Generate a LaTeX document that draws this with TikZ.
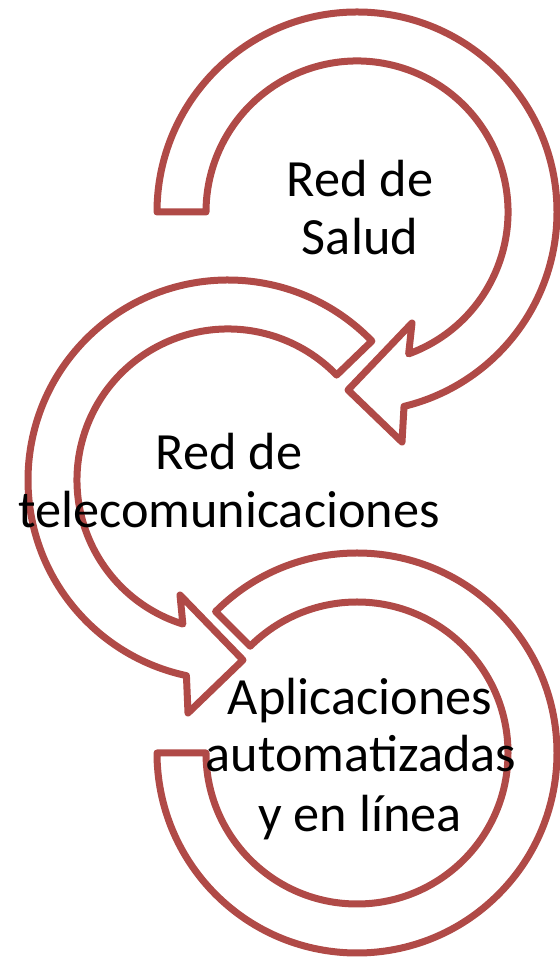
\documentclass[tikz,border=0pt]{standalone}
\usepackage{fontspec}
\setmainfont{Carlito}
\usetikzlibrary{calc}
\definecolor{arrowred}{RGB}{176,74,71}
\begin{document}
\begin{tikzpicture}[x=1pt,y=1pt,
  circarrow/.style={draw=arrowred,line width=7pt,line join=round,fill=white},
  lbl/.style={inner sep=0pt,anchor=base,font=\fontsize{52.3}{58}\selectfont}]
\useasboundingbox (0,0) rectangle (559,965);
\coordinate (C1) at (357,753);
\coordinate (C2) at (228,485);
\coordinate (C3) at (357,212);
% arrow 1 (top)
\draw[circarrow] ($(C1)+(180:200)$) arc[start angle=180,end angle=-76.4,radius=200]
  -- (402,523) -- (348,575) -- (412,642) -- ($(C1)+(-70:151)$)
  arc[start angle=-70,end angle=180,radius=151] -- cycle;
% arrow 2 (middle)
\draw[circarrow] ($(C2)+(44:200)$) arc[start angle=44,end angle=258,radius=200]
  -- (188,252) -- (243,305) -- (180,370) -- ($(C2)+(252.6:151)$)
  arc[start angle=252.6,end angle=44,radius=151] -- cycle;
% arrow 3 (bottom)
\draw[circarrow] ($(C3)+(135:200)$) arc[start angle=135,end angle=-180,radius=200]
  -- ($(C3)+(-180:151)$)
  arc[start angle=-180,end angle=135,radius=151] -- cycle;
% labels
\node[lbl] (t1a) at (360,768) {Red de};
\node[lbl] (t1b) at (360,710) {Salud};
\node[lbl] (t2a) at (229,495) {Red de};
\node[lbl] (t2b) at (229,437) {telecomunicaciones};
\node[lbl] (t3a) at (360,250) {Aplicaciones};
\node[lbl] (t3b) at (361,193) {automatizadas};
\node[lbl] (t3c) at (360,133) {y en línea};
\end{tikzpicture}
\end{document}
